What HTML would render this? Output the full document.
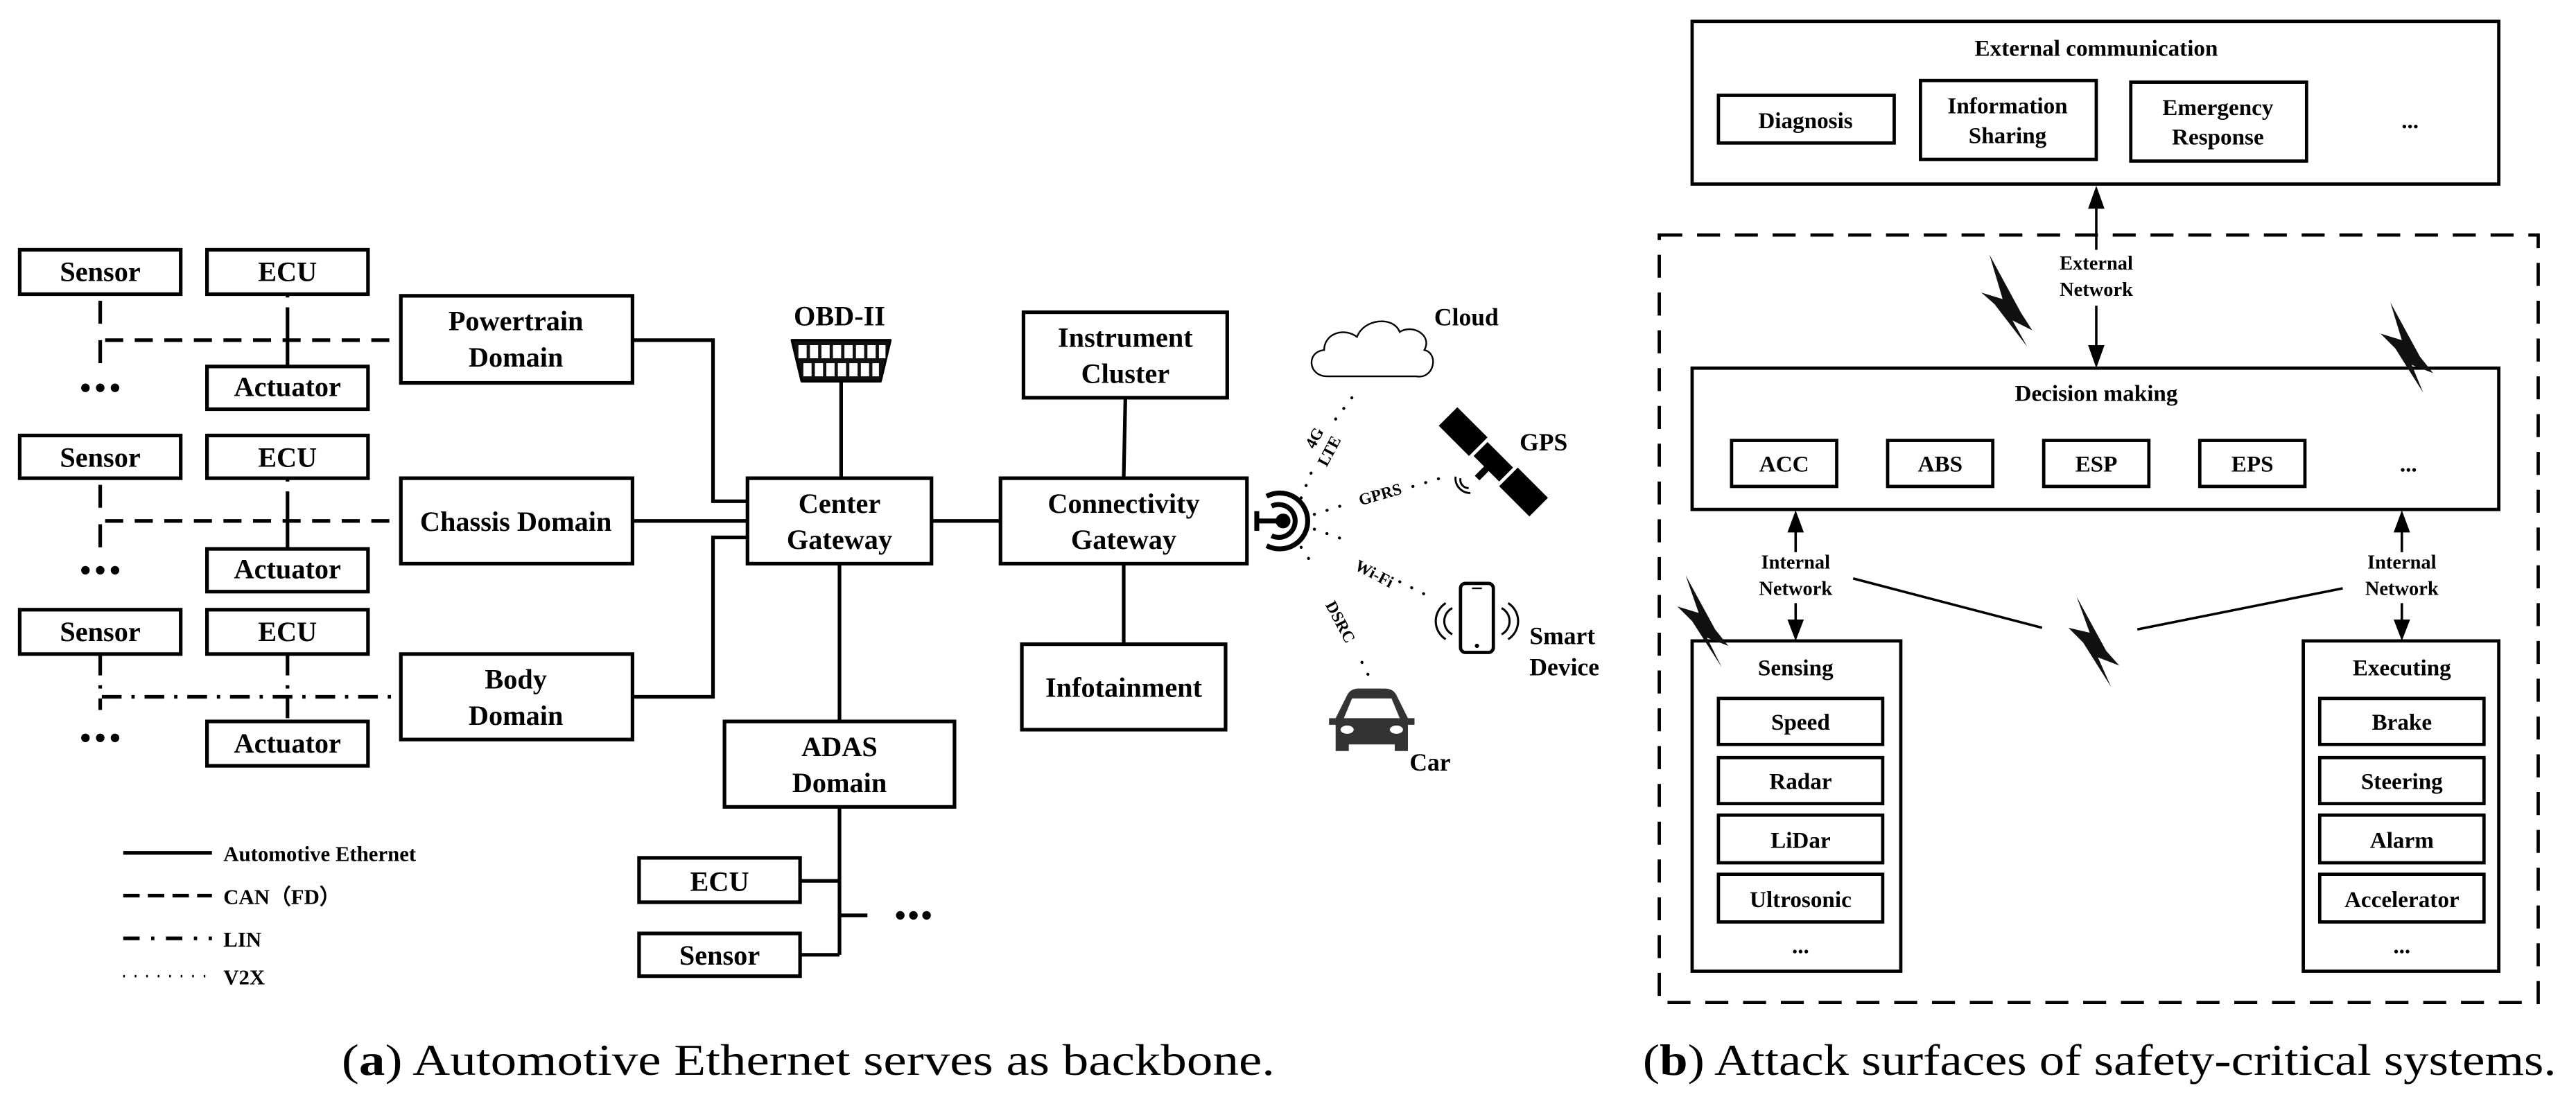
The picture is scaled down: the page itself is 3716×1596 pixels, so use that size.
<!DOCTYPE html>
<html><head><meta charset="utf-8"><style>
html,body{margin:0;padding:0;background:#fff;}
svg{display:block;}
text{font-family:"Liberation Serif",serif;font-weight:bold;fill:#000;}
.c{text-anchor:middle;}
.cap{font-weight:normal;}
</style></head><body>
<svg width="3716" height="1596" viewBox="0 0 1568 673" preserveAspectRatio="none" xmlns="http://www.w3.org/2000/svg">
<g fill="none" stroke="#000" stroke-width="2.2">
<!-- left rows -->
<rect x="12" y="152" width="98" height="27"/><rect x="126" y="152" width="98" height="27"/><rect x="126" y="223" width="98" height="26"/>
<rect x="12" y="265" width="98" height="26"/><rect x="126" y="265" width="98" height="26"/><rect x="126" y="334" width="98" height="26"/>
<rect x="12" y="371" width="98" height="27"/><rect x="126" y="371" width="98" height="27"/><rect x="126" y="439" width="98" height="27"/>
<rect x="244" y="180" width="141" height="53"/>
<rect x="244" y="291" width="141" height="52"/>
<rect x="244" y="398" width="141" height="52"/>
<rect x="455" y="291" width="112" height="52"/>
<rect x="441" y="439" width="140" height="52"/>
<rect x="389" y="522" width="98" height="27"/>
<rect x="389" y="568" width="98" height="26"/>
<rect x="623" y="190" width="124" height="52"/>
<rect x="609" y="291" width="150" height="52"/>
<rect x="622" y="392" width="124" height="52"/>
<!-- solid connections -->
<polyline points="385,207 434,207 434,305 455,305"/>
<line x1="385" y1="317" x2="455" y2="317"/>
<polyline points="385,424 434,424 434,327 455,327"/>
<line x1="512" y1="232" x2="512" y2="291"/>
<line x1="511" y1="343" x2="511" y2="439"/>
<line x1="511" y1="491" x2="511" y2="581"/>
<line x1="487" y1="536" x2="511" y2="536"/>
<line x1="487" y1="581" x2="511" y2="581"/>
<line x1="511" y1="557" x2="528" y2="557"/>
<line x1="567" y1="317" x2="609" y2="317"/>
<line x1="685" y1="242" x2="684" y2="291"/>
<line x1="684" y1="343" x2="684" y2="392"/>
<!-- dashed rows -->
<g stroke-dasharray="11 7">
<line x1="64" y1="207" x2="244" y2="207"/>
<line x1="64" y1="317" x2="244" y2="317"/>
</g>
<g stroke-dasharray="14 10">
<line x1="61" y1="183" x2="61" y2="228"/>
<line x1="61" y1="295" x2="61" y2="333"/>
</g>
<line x1="175" y1="180" x2="175" y2="223" stroke-dasharray="1 6 40"/>
<line x1="175" y1="292" x2="175" y2="334" stroke-dasharray="1 6 40"/>
<g stroke-dasharray="12 6 2 6">
<line x1="62" y1="424" x2="244" y2="424"/>
<line x1="61" y1="399" x2="61" y2="432"/>
<line x1="175" y1="399" x2="175" y2="439"/>
</g>
<!-- legend -->
<line x1="75" y1="519" x2="129" y2="519"/>
<line x1="75" y1="545" x2="129" y2="545" stroke-dasharray="10 5"/>
<line x1="75" y1="571" x2="129" y2="571" stroke-dasharray="10 7 2 7"/>
<line x1="75" y1="594" x2="129" y2="594" stroke-dasharray="1 6" stroke-width="1.5"/>
</g>
<g font-size="17" class="c">
<text x="61" y="171" class="c">Sensor</text><text x="175" y="171" class="c">ECU</text><text x="175" y="241" class="c">Actuator</text>
<text x="61" y="284" class="c">Sensor</text><text x="175" y="284" class="c">ECU</text><text x="175" y="352" class="c">Actuator</text>
<text x="61" y="390" class="c">Sensor</text><text x="175" y="390" class="c">ECU</text><text x="175" y="458" class="c">Actuator</text>
<text x="314" y="201" class="c">Powertrain</text><text x="314" y="223" class="c">Domain</text>
<text x="314" y="323" class="c">Chassis Domain</text>
<text x="314" y="419" class="c">Body</text><text x="314" y="441" class="c">Domain</text>
<text x="511" y="312" class="c">Center</text><text x="511" y="334" class="c">Gateway</text>
<text x="511" y="460" class="c">ADAS</text><text x="511" y="482" class="c">Domain</text>
<text x="438" y="542" class="c">ECU</text><text x="438" y="587" class="c">Sensor</text>
<text x="685" y="211" class="c">Instrument</text><text x="685" y="233" class="c">Cluster</text>
<text x="684" y="312" class="c">Connectivity</text><text x="684" y="334" class="c">Gateway</text>
<text x="684" y="424" class="c">Infotainment</text>
<text x="511" y="198" class="c">OBD-II</text>
</g>
<g fill="#000">
<circle cx="52" cy="236" r="2.6"/><circle cx="61" cy="236" r="2.6"/><circle cx="70" cy="236" r="2.6"/>
<circle cx="52" cy="347" r="2.6"/><circle cx="61" cy="347" r="2.6"/><circle cx="70" cy="347" r="2.6"/>
<circle cx="52" cy="449" r="2.6"/><circle cx="61" cy="449" r="2.6"/><circle cx="70" cy="449" r="2.6"/>
<circle cx="548" cy="557" r="2.6"/><circle cx="556" cy="557" r="2.6"/><circle cx="564" cy="557" r="2.6"/>
</g>
<g font-size="13">
<text x="136" y="524">Automotive Ethernet</text>
<text x="136" y="550">CAN（FD）</text>
<text x="136" y="576">LIN</text>
<text x="136" y="599">V2X</text>
</g>
<!-- OBD connector -->
<path d="M482,207 L542,207 L536,232 L488,232 Z" fill="#111" stroke="#000" stroke-width="1.5" stroke-linejoin="round"/>
<g fill="#fff">
<rect x="486" y="210" width="5" height="8"/><rect x="493" y="210" width="5" height="8"/><rect x="500" y="210" width="5" height="8"/><rect x="507" y="210" width="5" height="8"/><rect x="514" y="210" width="5" height="8"/><rect x="521" y="210" width="5" height="8"/><rect x="528" y="210" width="5" height="8"/><rect x="535" y="210" width="4" height="8"/>
<rect x="489" y="221" width="5" height="8"/><rect x="496" y="221" width="5" height="8"/><rect x="503" y="221" width="5" height="8"/><rect x="510" y="221" width="5" height="8"/><rect x="517" y="221" width="5" height="8"/><rect x="524" y="221" width="5" height="8"/><rect x="531" y="221" width="4" height="8"/>
</g>
<!-- antenna -->
<g stroke="#000" fill="none" stroke-width="3">
<path d="M774,308 A10,10 0 1,1 774,326"/>
<path d="M771,302 A17,17 0 1,1 771,332"/>
<line x1="765" y1="317" x2="781" y2="317"/>
<line x1="765" y1="311" x2="765" y2="323"/>
</g>
<circle cx="781" cy="317" r="4.5" fill="#000"/>
<!-- dotted V2X lines -->
<g stroke="#000" stroke-width="1.8" stroke-dasharray="0.1 8" stroke-linecap="round" fill="none">
<line x1="792" y1="303" x2="800" y2="283"/><line x1="813" y1="255" x2="826" y2="238"/>
<line x1="800" y1="313" x2="822" y2="306"/><line x1="860" y1="296" x2="880" y2="290"/>
<line x1="800" y1="322" x2="820" y2="329"/><line x1="852" y1="354" x2="872" y2="364"/>
<line x1="792" y1="333" x2="800" y2="345"/><line x1="829" y1="403" x2="836" y2="417"/>
</g>
<g font-size="10">
<text transform="translate(803,268) rotate(-62)" class="c">4G</text>
<text transform="translate(812,276) rotate(-62)" class="c">LTE</text>
<text transform="translate(841,304) rotate(-16)" class="c">GPRS</text>
<text transform="translate(835,352) rotate(28)" class="c">Wi-Fi</text>
<text transform="translate(813,380) rotate(62)" class="c">DSRC</text>
</g>
<!-- cloud -->
<path d="M808,229 C796,229 795,214 806,213 C806,203 818,199 826,205 C830,194 848,192 852,202 C860,197 872,204 867,213 C876,215 873,231 862,229 Z" fill="#fff" stroke="#000" stroke-width="1"/>
<!-- satellite -->
<g transform="translate(909,281) rotate(45)" fill="#000">
<rect x="-39" y="-8" width="26" height="16"/>
<rect x="13" y="-8" width="26" height="16"/>
<rect x="-11" y="-6" width="22" height="12"/>
<rect x="-2" y="6" width="4" height="8"/>
</g>
<g stroke="#000" fill="none" stroke-width="1.2"><path d="M889,291 a5,5 0 0,0 5,6"/><path d="M886,290 a9,9 0 0,0 9,10"/></g>
<!-- phone -->
<rect x="889" y="355" width="20" height="42" rx="3" fill="#fff" stroke="#000" stroke-width="2"/>
<line x1="896" y1="358" x2="902" y2="358" stroke="#000" stroke-width="1"/>
<circle cx="899" cy="393" r="1.3" fill="#000"/>
<g stroke="#000" fill="none" stroke-width="1.3">
<path d="M884,370 a9,9 0 0,0 0,16"/><path d="M880,367 a13,13 0 0,0 0,22"/>
<path d="M914,370 a9,9 0 0,1 0,16"/><path d="M918,367 a13,13 0 0,1 0,22"/>
</g>
<!-- car -->
<g fill="#333">
<path d="M813,437 L820,423 Q822,419 827,419 L843,419 Q848,419 850,423 L857,437 L861,437 L861,441 L857,441 L857,457 L849,457 L849,453 L821,453 L821,457 L813,457 L813,441 L809,441 L809,437 Z"/>
</g>
<path d="M818,437 L823,425 L847,425 L852,437 Z" fill="#fff"/>
<ellipse cx="820" cy="444" rx="4" ry="2.5" fill="#fff"/><ellipse cx="850" cy="444" rx="4" ry="2.5" fill="#fff"/>
<g font-size="15">
<text x="873" y="198">Cloud</text>
<text x="925" y="274">GPS</text>
<text x="931" y="392">Smart</text>
<text x="931" y="411">Device</text>
<text x="858" y="469">Car</text>
</g>
<!-- captions -->
<text x="208" y="654" font-size="27" class="cap" textLength="568" lengthAdjust="spacingAndGlyphs">(<tspan font-weight="bold">a</tspan>) Automotive Ethernet serves as backbone.</text>
<text x="1000" y="654" font-size="27" class="cap" textLength="556" lengthAdjust="spacingAndGlyphs">(<tspan font-weight="bold">b</tspan>) Attack surfaces of safety-critical systems.</text>
<!-- right panel -->
<g fill="none" stroke="#000" stroke-width="2">
<rect x="1030" y="13" width="491" height="99"/>
<rect x="1046" y="58" width="107" height="29"/>
<rect x="1169" y="49" width="107" height="48"/>
<rect x="1297" y="50" width="107" height="48"/>
<rect x="1010" y="143" width="535" height="467" stroke-dasharray="14 9"/>
<rect x="1030" y="224" width="491" height="86"/>
<rect x="1054" y="268" width="64" height="28"/>
<rect x="1149" y="268" width="64" height="28"/>
<rect x="1244" y="268" width="64" height="28"/>
<rect x="1339" y="268" width="64" height="28"/>
<rect x="1030" y="390" width="127" height="201"/>
<rect x="1046" y="425" width="100" height="28"/>
<rect x="1046" y="461" width="100" height="28"/>
<rect x="1046" y="496" width="100" height="29"/>
<rect x="1046" y="532" width="100" height="29"/>
<rect x="1402" y="390" width="119" height="201"/>
<rect x="1412" y="425" width="100" height="28"/>
<rect x="1412" y="461" width="100" height="28"/>
<rect x="1412" y="496" width="100" height="29"/>
<rect x="1412" y="532" width="100" height="29"/>
<g stroke-width="1.5">
<line x1="1276" y1="124" x2="1276" y2="152"/><line x1="1276" y1="186" x2="1276" y2="212"/>
<line x1="1093" y1="322" x2="1093" y2="336"/><line x1="1093" y1="367" x2="1093" y2="380"/>
<line x1="1462" y1="322" x2="1462" y2="336"/><line x1="1462" y1="367" x2="1462" y2="380"/>
<line x1="1128" y1="352" x2="1243" y2="382"/>
<line x1="1301" y1="383" x2="1426" y2="358"/>
</g>
</g>
<g fill="#000">
<polygon points="1276,113 1271,127 1281,127"/><polygon points="1276,224 1271,210 1281,210"/>
<polygon points="1093,310.5 1088,324 1098,324"/><polygon points="1093,390 1088,377 1098,377"/>
<polygon points="1462,310.5 1457,324 1467,324"/><polygon points="1462,390 1457,377 1467,377"/>
</g>
<g fill="#111">
<polygon points="1211,155 1230,190 1237,201 1225,195 1234,211 1214,185 1206,178 1219,182"/>
<polygon points="1455,184 1473,217 1481,227 1468,222 1475,239 1458,212 1449,203 1462,207"/>
<polygon points="1026,350 1044,383 1052,393 1039,388 1048,406 1030,378 1021,369 1034,373"/>
<polygon points="1264,363 1282,396 1290,405 1277,400 1285,418 1268,391 1259,382 1272,385"/>
</g>
<g font-size="14">
<text x="1276" y="34" class="c">External communication</text>
<text x="1099" y="78" class="c">Diagnosis</text>
<text x="1222" y="69" class="c">Information</text><text x="1222" y="87" class="c">Sharing</text>
<text x="1350" y="70" class="c">Emergency</text><text x="1350" y="88" class="c">Response</text>
<text x="1467" y="78" class="c">...</text>
<text x="1276" y="244" class="c">Decision making</text>
<text x="1086" y="287" class="c">ACC</text><text x="1181" y="287" class="c">ABS</text><text x="1276" y="287" class="c">ESP</text><text x="1371" y="287" class="c">EPS</text>
<text x="1466" y="287" class="c">...</text>
<text x="1093" y="411" class="c">Sensing</text>
<text x="1096" y="444" class="c">Speed</text><text x="1096" y="480" class="c">Radar</text><text x="1096" y="516" class="c">LiDar</text><text x="1096" y="552" class="c">Ultrosonic</text>
<text x="1096" y="580" class="c">...</text>
<text x="1462" y="411" class="c">Executing</text>
<text x="1462" y="444" class="c">Brake</text><text x="1462" y="480" class="c">Steering</text><text x="1462" y="516" class="c">Alarm</text><text x="1462" y="552" class="c">Accelerator</text>
<text x="1462" y="580" class="c">...</text>
</g>
<g font-size="12">
<text x="1276" y="164" class="c">External</text><text x="1276" y="180" class="c">Network</text>
<text x="1093" y="346" class="c">Internal</text><text x="1093" y="362" class="c">Network</text>
<text x="1462" y="346" class="c">Internal</text><text x="1462" y="362" class="c">Network</text>
</g>
</svg>
</body></html>
